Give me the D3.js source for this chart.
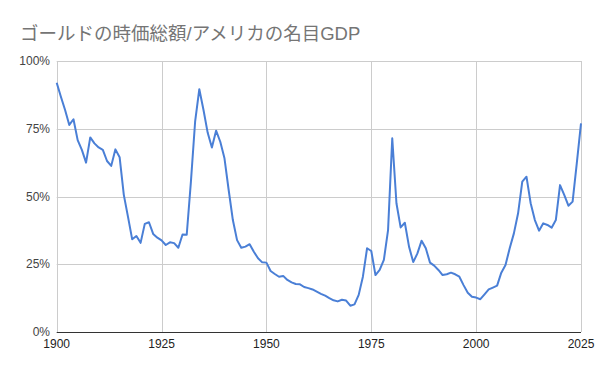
<!DOCTYPE html>
<html><head><meta charset="utf-8">
<script src="https://cdn.jsdelivr.net/npm/d3@7"></script>
<style>body{margin:0;background:#fff;}svg{display:block;}</style>
</head><body>
<script>
const title = "ゴールドの時価総額/アメリカの名目GDP";
const startYear = 1900;
const values = [
92.0,86.8,81.9,76.4,78.5,70.8,67.2,62.5,71.8,69.6,
68.1,67.2,63.1,61.3,67.4,64.5,50.6,42.5,34.2,35.4,
32.9,39.9,40.5,36.2,34.8,33.8,32.1,33.1,32.8,31.1,
36.0,35.9,55.5,77.6,89.6,81.9,73.5,68.1,74.3,70.2,
64.1,52.4,41.3,33.9,31.1,31.5,32.4,29.6,27.2,25.7,
25.6,22.5,21.4,20.4,20.7,19.2,18.3,17.7,17.6,16.6,
16.2,15.7,14.9,14.1,13.4,12.5,11.7,11.3,11.9,11.6,
9.7,10.2,13.7,20.4,30.9,29.9,21.0,22.9,26.6,37.6,
71.5,47.5,38.6,40.3,31.5,25.8,29.0,33.7,30.9,25.6,
24.5,22.9,21.0,21.3,21.9,21.3,20.4,17.3,14.5,13.0,
12.7,12.1,13.9,15.7,16.4,17.1,21.9,24.7,30.9,36.4,
43.8,55.5,57.3,47.5,41.3,37.4,40.1,39.5,38.5,41.3,
54.2,50.6,46.6,48.1,62.3,77.0
];
const xTicks = [1900,1925,1950,1975,2000,2025];
const yTicks = [0,25,50,75,100];

const data = values.map((v,i)=>({year:startYear+i, value:v}));
const W=600,H=371;
const svg=d3.select("body").append("svg").attr("width",W).attr("height",H);
const x=d3.scaleLinear().domain([1900,2025]).range([56.7,581]);
const y=d3.scaleLinear().domain([0,100]).range([332,61]);

svg.append("text").attr("x",20).attr("y",40)
  .attr("font-family","'Liberation Sans', Arial, 'Noto Sans CJK JP', sans-serif")
  .attr("font-size",18.5).attr("fill","#757575").text(title);

const font="'Liberation Sans', Arial, sans-serif";
// grid
svg.append("g").selectAll("line").data(yTicks.filter(d=>d>0)).join("line")
  .attr("x1",x(1900)).attr("x2",x(2025)).attr("y1",d=>Math.round(y(d))+0.5).attr("y2",d=>Math.round(y(d))+0.5)
  .attr("stroke","#cccccc").attr("stroke-width",1);
svg.append("g").selectAll("line").data(xTicks).join("line")
  .attr("x1",d=>Math.round(x(d))+0.5).attr("x2",d=>Math.round(x(d))+0.5).attr("y1",y(100)).attr("y2",y(0))
  .attr("stroke","#cccccc").attr("stroke-width",1);

// y labels
svg.append("g").selectAll("text").data(yTicks).join("text")
  .attr("x",50).attr("y",d=>y(d)+4).attr("text-anchor","end")
  .attr("font-family",font).attr("font-size",12).attr("fill","#444444")
  .text(d=>d+"%");
// x labels
svg.append("g").selectAll("text").data(xTicks).join("text")
  .attr("x",d=>x(d)).attr("y",348).attr("text-anchor","middle")
  .attr("font-family",font).attr("font-size",12).attr("fill","#222222")
  .text(d=>d);

// line
svg.append("path").datum(data)
  .attr("fill","none").attr("stroke","#4a7fd6").attr("stroke-width",2)
  .attr("stroke-linejoin","round")
  .attr("d",d3.line().x(d=>x(d.year)).y(d=>y(d.value)));

// baseline
svg.append("line").attr("x1",x(1900)).attr("x2",x(2025)).attr("y1",Math.round(y(0))+0.5).attr("y2",Math.round(y(0))+0.5)
  .attr("stroke","#333333").attr("stroke-width",1);
</script>
</body></html>
